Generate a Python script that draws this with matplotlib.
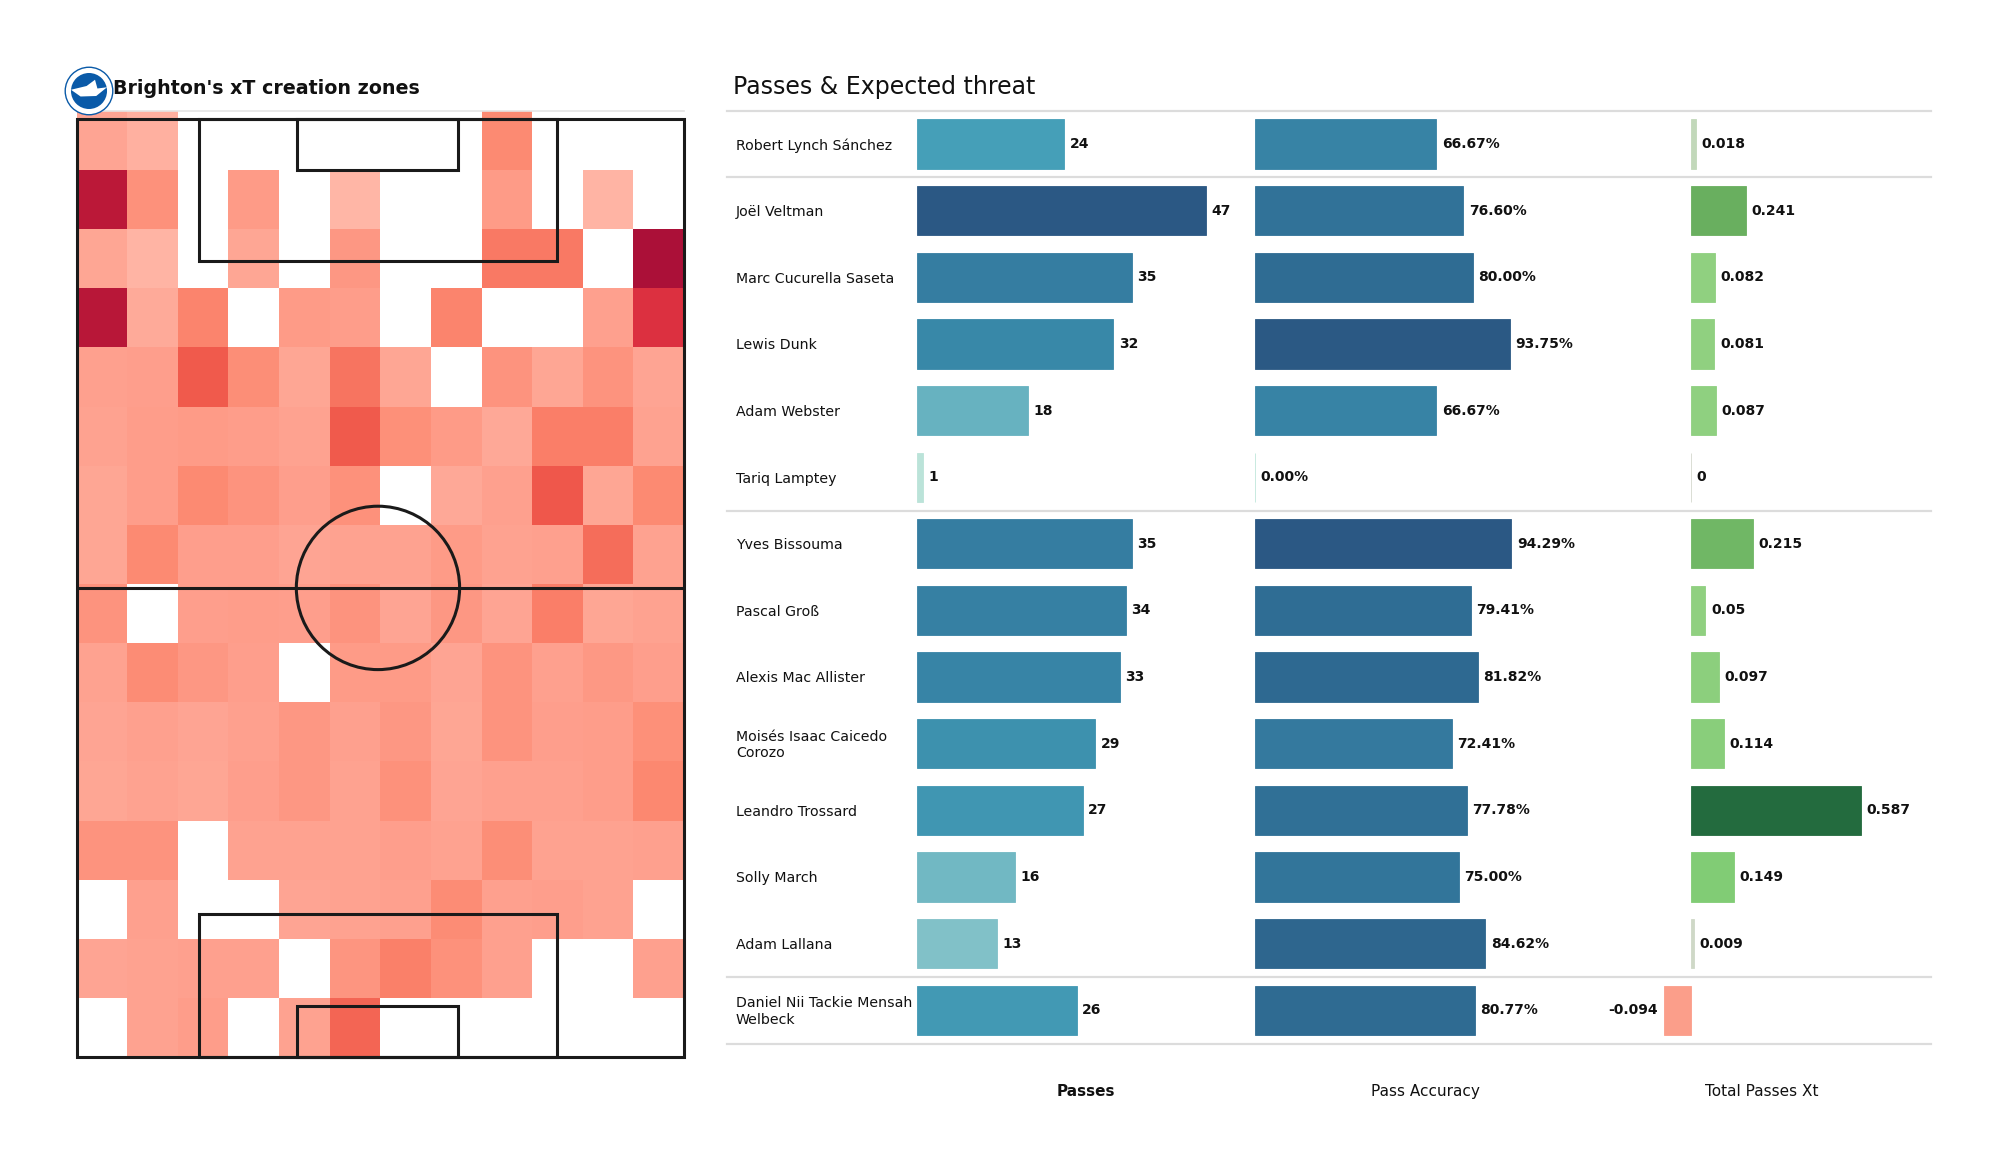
import numpy as np
import matplotlib
matplotlib.use('Agg')
import matplotlib.pyplot as plt
from matplotlib.colors import LinearSegmentedColormap, Normalize
from matplotlib.patches import Rectangle, Ellipse, Polygon

W, H = 2000, 1175

players = ['Robert Lynch Sánchez', 'Joël Veltman', 'Marc Cucurella Saseta', 'Lewis Dunk',
           'Adam Webster', 'Tariq Lamptey', 'Yves Bissouma', 'Pascal Groß', 'Alexis Mac Allister',
           'Moisés Isaac Caicedo\nCorozo', 'Leandro Trossard', 'Solly March', 'Adam Lallana',
           'Daniel Nii Tackie Mensah\nWelbeck']
passes = [24, 47, 35, 32, 18, 1, 35, 34, 33, 29, 27, 16, 13, 26]
accuracy = [66.67, 76.60, 80.00, 93.75, 66.67, 0.00, 94.29, 79.41, 81.82, 72.41, 77.78, 75.00, 84.62, 80.77]
xt = [0.018, 0.241, 0.082, 0.081, 0.087, 0, 0.215, 0.05, 0.097, 0.114, 0.587, 0.149, 0.009, -0.094]
# Veltman's bar is drawn shorter than its label in the picture
xt_bars = [0.018, 0.19, 0.082, 0.081, 0.087, 0, 0.215, 0.05, 0.097, 0.114, 0.587, 0.149, 0.009, -0.094]
separators = [-0.5, 0.5, 5.5, 12.5, 13.5]

n = np.nan
zones = [
    [.28, .22, n, n, n, n, n, n, .42, n, n, n],
    [.92, .38, n, .33, n, .18, n, n, .33, n, .20, n],
    [.27, .20, n, .27, n, .35, n, n, .50, .50, n, 1.0],
    [.93, .25, .45, n, .33, .32, n, .45, n, n, .30, .80],
    [.30, .31, .62, .40, .27, .52, .27, n, .37, .27, .37, .28],
    [.29, .32, .33, .32, .29, .62, .39, .33, .26, .48, .48, .29],
    [.27, .32, .42, .37, .31, .38, n, .26, .30, .63, .27, .42],
    [.27, .42, .31, .31, .28, .29, .29, .33, .29, .30, .55, .29],
    [.37, n, .31, .32, .31, .37, .28, .35, .28, .48, .27, .29],
    [.29, .41, .35, .31, n, .33, .33, .28, .37, .30, .34, .31],
    [.28, .30, .28, .30, .35, .30, .35, .27, .37, .31, .32, .39],
    [.27, .29, .27, .31, .35, .29, .38, .28, .30, .30, .32, .43],
    [.37, .37, n, .29, .29, .29, .31, .29, .40, .29, .29, .30],
    [n, .30, n, n, .28, .29, .30, .41, .30, .31, .29, n],
    [.28, .29, .30, .30, n, .36, .47, .38, .30, n, n, .30],
    [n, .29, .32, n, .29, .58, n, n, n, n, n, n],
]

zone_cmap = LinearSegmentedColormap.from_list('zones', [
    (0, '#ffc4b8'), (.2, '#ffb4a4'), (.3, '#fea08e'), (.42, '#fc8a72'), (.5, '#f97a64'),
    (.62, '#f05a4c'), (.8, '#dc3040'), (.92, '#bb1838'), (1, '#ab1038')])
blues = LinearSegmentedColormap.from_list('blues', [
    (0, '#bfe6da'), (.28, '#80c0c8'), (.38, '#68b3c0'), (.51, '#459fb8'), (.68, '#3888a8'),
    (.745, '#357da1'), (.85, '#2f6c93'), (1, '#2b5884')])
greens = LinearSegmentedColormap.from_list('greens', [
    (0, '#fb7a68'), (.42, '#fb9e8a'), (.5, '#d8d8d0'), (.515, '#c0d8b8'), (.54, '#90d080'), (.57, '#90d080'),
    (.63, '#80cc75'), (.70, '#6ab060'), (1, '#236b3e')])
xt_norm = Normalize(-0.587, 0.587)


def px_axes(left, top, right, bottom):
    return fig.add_axes([left / W, 1 - bottom / H, (right - left) / W, (bottom - top) / H])


fig = plt.figure(figsize=(20, 11.75), dpi=100)

# pitch
ax = px_axes(76.5, 111, 684, 1057)
ax.pcolormesh(np.linspace(0, 80, 13), np.linspace(121, 0, 17), np.array(zones),
              cmap=zone_cmap, vmin=0, vmax=1, linewidth=0)
ax.set_xlim(0, 80)
ax.set_ylim(0, 121)
ax.axis('off')
lc = '#1a1a1a'
for x, y, w, h in [(0, 0, 80, 120), (16.1, 0, 47.2, 18.3), (16.1, 101.8, 47.2, 18.2),
                   (29.0, 0, 21.2, 6.5), (29.0, 113.4, 21.2, 6.6)]:
    ax.add_patch(Rectangle((x, y), w, h, fill=False, ec=lc, lw=2.2, clip_on=False))
ax.plot([0, 80], [60, 60], color=lc, lw=2.2)
ax.add_patch(Ellipse((39.7, 60), 21.5, 20.9, fill=False, ec=lc, lw=2.2))
ax.plot([0, 80], [121, 121], color='#e4e4e4', lw=1.2, clip_on=False)

# badge
logo = px_axes(64, 66, 114, 116)
logo.set_xlim(-1.04, 1.04)
logo.set_ylim(-1, 1)
logo.axis('off')
logo.add_patch(Ellipse((0, 0), 1.98, 1.9, fc='white', ec='#0a5aa8', lw=1))
logo.add_patch(Ellipse((0, 0), 1.5, 1.44, fc='#0a5aa8', ec='none'))
logo.add_patch(Polygon([(-.75, .05), (-.1, .2), (.25, .45), (.35, .1), (.75, .15), (.3, -.2), (-.35, -.22)],
                       fc='white', ec='none'))
fig.text(113 / W, 1 - 89 / H, "Brighton's xT creation zones", fontsize=13.7, fontweight='bold',
         va='center', color='#111111')

# table background
table = px_axes(727, 110.8, 1931, 1043.5)
table.set_xlim(0, 1204)
table.set_ylim(13.5, -0.5)
table.axis('off')
for s in separators:
    table.axhline(s, color='#dcdcdc', lw=1.6, clip_on=False)
for i, name in enumerate(players):
    table.text(9, i + 0.02, name, fontsize=10.2, va='center', color='#111111', linespacing=1.25)
fig.text(733 / W, 1 - 87 / H, 'Passes & Expected threat', fontsize=17, va='center', color='#111111')

# bars
rows = np.arange(len(players))
ax1 = px_axes(917, 110.8, 1255, 1043.5)
ax2 = px_axes(1255, 110.8, 1595, 1043.5)
ax3 = px_axes(1593, 110.8, 1931, 1043.5)

b1 = ax1.barh(rows, passes, height=0.74, color=blues(np.array(passes) / 47),
              edgecolor=blues(np.array(passes) / 47), linewidth=0.6)
ax1.bar_label(b1, labels=[str(v) for v in passes], padding=4, fontsize=10, fontweight='bold', color='#111111')
ax1.set_xlim(0, 338 / 6.14)

b2 = ax2.barh(rows, accuracy, height=0.74, color=blues(np.array(accuracy) / 94.29),
              edgecolor=blues(np.array(accuracy) / 94.29), linewidth=0.6)
ax2.bar_label(b2, labels=[f'{v:.2f}%' for v in accuracy], padding=4, fontsize=10, fontweight='bold', color='#111111')
ax2.set_xlim(0, 340 / 2.72)

xt_colors = greens(xt_norm(np.array(xt)))
b3 = ax3.barh(rows, xt_bars, height=0.74, color=xt_colors, edgecolor=xt_colors, linewidth=0.6)
ax3.bar_label(b3, labels=[f'{v:g}' for v in xt], padding=4, fontsize=10, fontweight='bold', color='#111111')
ax3.set_xlim(-98 / 289, 240 / 289)

for a, label, weight in [(ax1, 'Passes', 'bold'), (ax2, 'Pass Accuracy', 'normal'), (ax3, 'Total Passes Xt', 'normal')]:
    a.set_ylim(13.5, -0.5)
    a.patch.set_alpha(0)
    for sp in a.spines.values():
        sp.set_visible(False)
    a.set_xticks([])
    a.set_yticks([])
    a.set_xlabel(label, fontsize=11, fontweight=weight, color='#111111', labelpad=29.5)

fig.savefig('out.png', dpi=100)
